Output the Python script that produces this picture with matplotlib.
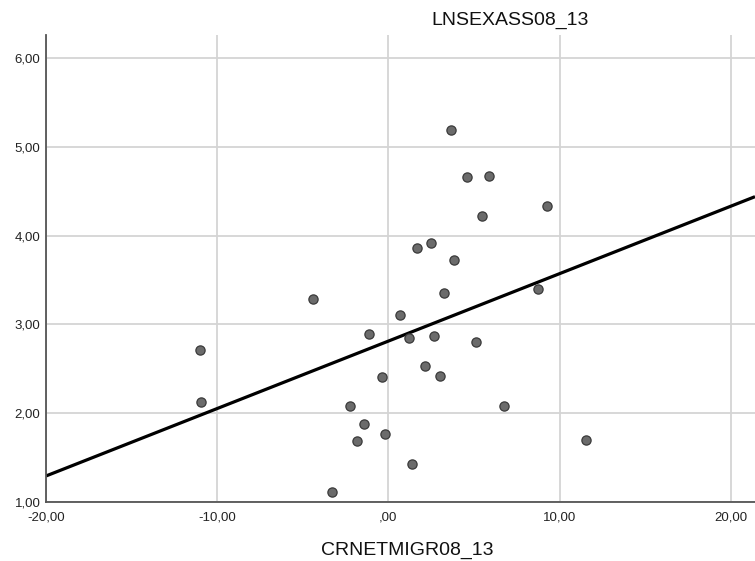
import matplotlib
matplotlib.use("Agg")
import matplotlib.pyplot as plt
import numpy as np

plt.rcParams['font.family'] = ['Liberation Sans', 'DejaVu Sans']

# Data
crnetmigr = [3.68, 4.57, 5.88, 9.26, 5.45, 1.67, 2.47, 3.83, 3.27, 8.72,
             -4.42, 0.70, -1.11, 1.21, 2.67, -10.99, 2.14, 3.00, -0.37, -10.97,
             -2.26, -1.40, -0.21, -1.83, 1.36, -3.29, 5.12, 6.75, 11.52]
lnsexass = [5.19, 4.66, 4.67, 4.33, 4.22, 3.86, 3.92, 3.72, 3.35, 3.40,
            3.28, 3.10, 2.89, 2.85, 2.87, 2.71, 2.53, 2.42, 2.40, 2.12,
            2.08, 1.88, 1.76, 1.68, 1.43, 1.11, 2.80, 2.08, 1.70]
fit_intercept = 2.81
fit_slope = 0.076

x_ticks = [-20, -10, 0, 10, 20]
x_tick_labels = ['-20,00', '-10,00', ',00', '10,00', '20,00']
y_ticks = [1, 2, 3, 4, 5, 6]
y_tick_labels = ['1,00', '2,00', '3,00', '4,00', '5,00', '6,00']

fig = plt.figure(figsize=(7.55, 5.61), dpi=100)
ax = fig.add_axes([46/755, (561-501.7)/561, 1 - 46/755, (501.7-35)/561])

xmin, xmax = -20, 21.42
ymin, ymax = 1, 6.26
ax.set_xlim(xmin, xmax)
ax.set_ylim(ymin, ymax)

ax.set_xticks(x_ticks)
ax.set_xticklabels(x_tick_labels)
ax.set_yticks(y_ticks)
ax.set_yticklabels(y_tick_labels)
ax.tick_params(length=0, labelsize=9.5, colors='#222222')
ax.tick_params(axis='x', pad=7)
ax.tick_params(axis='y', pad=4)

ax.grid(True, color='#d4d4d4', linewidth=1.3)
ax.set_axisbelow(True)
for s in ['top', 'right']:
    ax.spines[s].set_visible(False)
for s in ['left', 'bottom']:
    ax.spines[s].set_color('#555555')
    ax.spines[s].set_linewidth(1.3)

xs = np.array([xmin, xmax])
ax.plot(xs, fit_intercept + fit_slope * xs, color='black', linewidth=2.3, zorder=2,
        solid_capstyle='butt')

ax.scatter(crnetmigr, lnsexass, s=44, color='#6b6b6b', edgecolor='#3a3a3a',
           linewidth=0.9, zorder=3)

fig.text(510/755, 1 - 20/561, 'LNSEXASS08_13', ha='center', va='center',
         fontsize=14, color='#111111')
fig.text(407/755, 1 - 550/561, 'CRNETMIGR08_13', ha='center', va='center',
         fontsize=14, color='#111111')

fig.savefig('out.png', dpi=100)
